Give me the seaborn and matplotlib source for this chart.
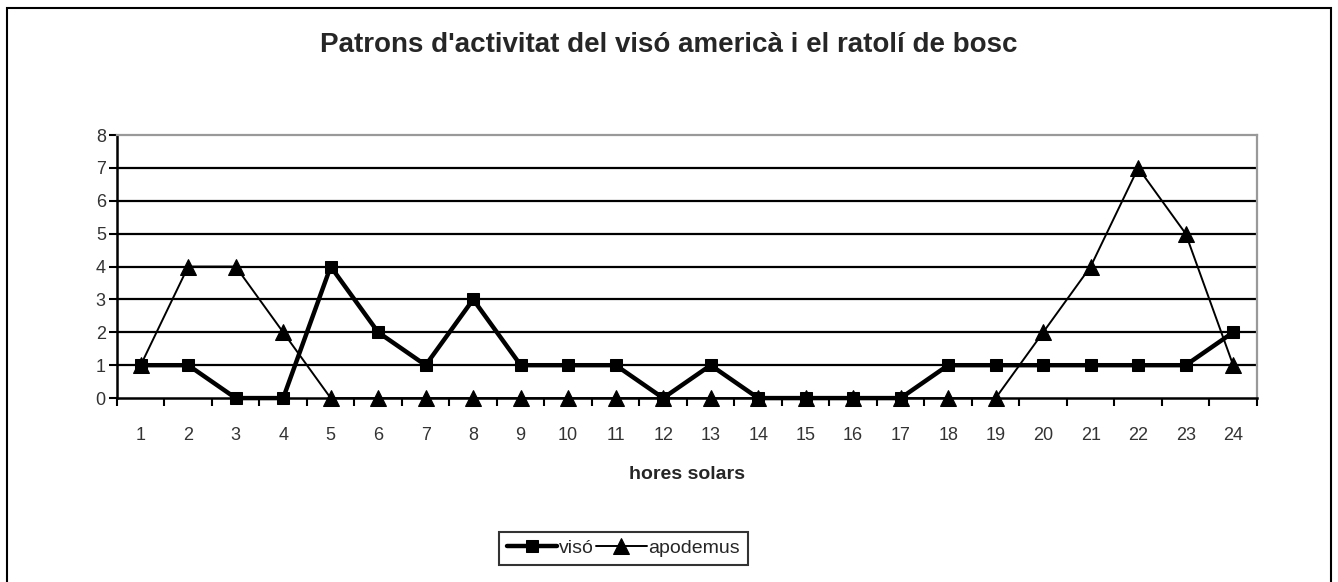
import pandas as pd
import matplotlib.pyplot as plt
import seaborn as sns
from matplotlib.patches import Rectangle

# Données : activité horaire
hores = list(range(1, 25))
viso = [1, 1, 0, 0, 4, 2, 1, 3, 1, 1, 1, 0, 1, 0, 0, 0, 0, 1, 1, 1, 1, 1, 1, 2]
apodemus = [1, 4, 4, 2, 0, 0, 0, 0, 0, 0, 0, 0, 0, 0, 0, 0, 0, 0, 0, 2, 4, 7, 5, 1]

df = pd.DataFrame({"hora": hores, "visó": viso, "apodemus": apodemus})

sns.set_style("white")
plt.rcParams['font.family'] = ['Liberation Sans', 'DejaVu Sans']

fig = plt.figure(figsize=(13.38, 5.82), dpi=100)
ax = fig.add_axes([0.0874, 0.316, 0.852, 0.452])

# cadre de la figure
fig.patches.append(Rectangle((0.005, -0.01), 0.99, 0.996, transform=fig.transFigure,
                             fill=False, edgecolor="black", linewidth=1.5))

sns.lineplot(data=df, x="hora", y="visó", ax=ax, color="black", linewidth=3.2,
             marker="s", markersize=8, markeredgecolor="black", label="visó", clip_on=False)
sns.lineplot(data=df, x="hora", y="apodemus", ax=ax, color="black", linewidth=1.4,
             marker="^", markersize=11, markeredgecolor="black", label="apodemus", clip_on=False)

ax.set_xlim(0.5, 24.5)
ax.set_ylim(0, 8)
ax.set_xticks(hores)
ax.set_xticklabels([str(h) for h in hores], fontsize=13, color="#333333")
ax.set_xticks([h - 0.5 for h in hores] + [24.5], minor=True)
ax.tick_params(axis="x", which="both", bottom=True)
ax.tick_params(axis="x", which="major", length=0, pad=21)
ax.tick_params(axis="x", which="minor", length=6, width=1.5, color="black", direction="out")
ax.set_yticks(range(0, 9))
ax.set_yticklabels([str(v) for v in range(0, 9)], fontsize=13, color="#333333")
ax.tick_params(axis="y", left=True, length=6, width=1.5, color="black", direction="out", pad=2)

for v in range(1, 8):
    ax.axhline(v, color="black", linewidth=1.6, zorder=0)

for s in ["left", "bottom"]:
    ax.spines[s].set_color("black")
    ax.spines[s].set_linewidth(1.8)
for s in ["top", "right"]:
    ax.spines[s].set_color("#999999")
    ax.spines[s].set_linewidth(1.6)

ax.set_ylabel("")
ax.set_xlabel("hores solars", fontsize=14, fontweight="bold", labelpad=16)

fig.text(0.5, 0.922, "Patrons d'activitat del visó americà i el ratolí de bosc",
         ha="center", va="center", fontsize=20, fontweight="bold")

leg = ax.legend(loc="center", bbox_to_anchor=(0.466, 0.058), bbox_transform=fig.transFigure,
                ncol=2, frameon=True, fancybox=False, fontsize=14, handlelength=2.6,
                handletextpad=0.1, columnspacing=0.1, borderpad=0.4, borderaxespad=0)
leg.get_frame().set_edgecolor("black")
leg.get_frame().set_linewidth(1.5)

plt.savefig("out.png", dpi=100)
